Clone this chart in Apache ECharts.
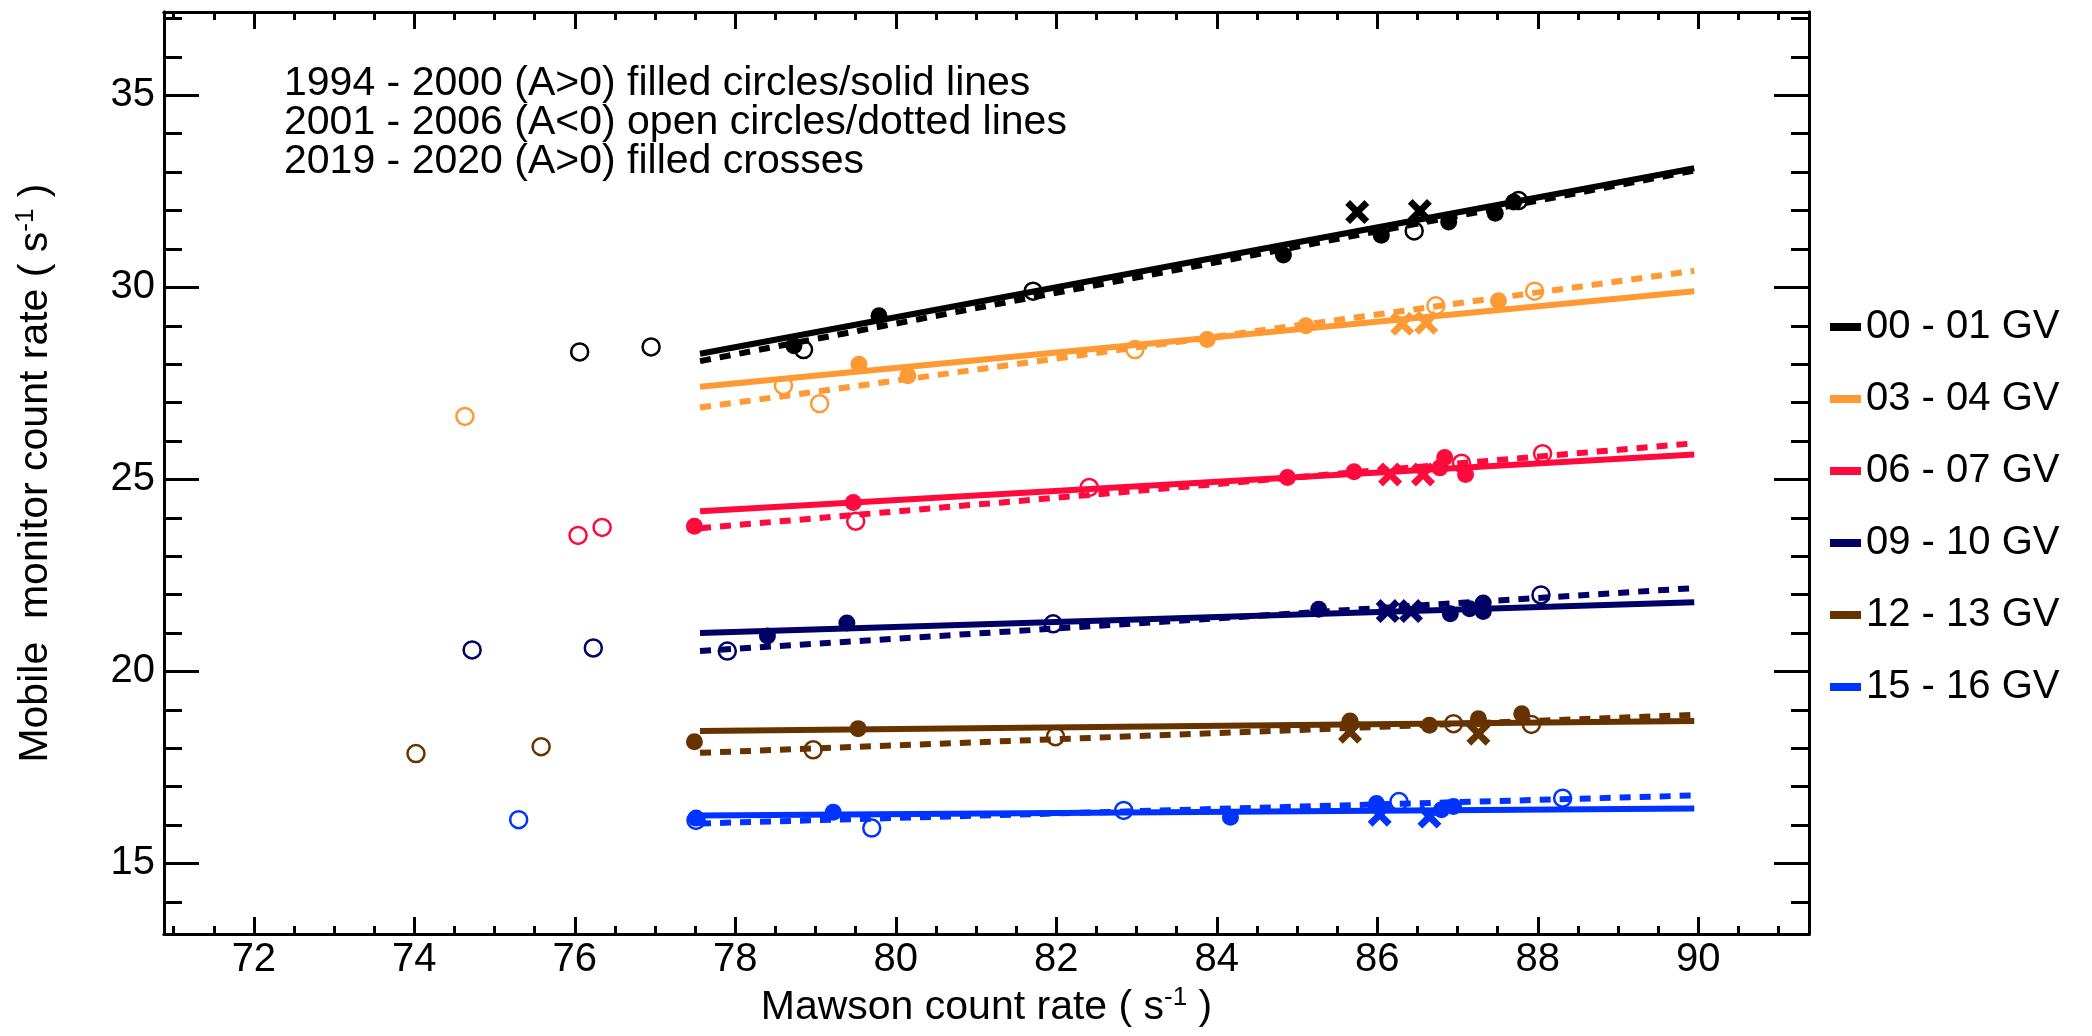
<!DOCTYPE html>
<html>
<head>
<meta charset="utf-8">
<script src="https://cdn.jsdelivr.net/npm/echarts@6/dist/echarts.min.js"></script>
<style>
  html, body { margin: 0; padding: 0; background: #fff; }
  #main { width: 2092px; height: 1036px; }
</style>
</head>
<body>
<div id="main"></div>
<script>
// rigidity bands (legend) and their colours
var bands = ['00 - 01 GV', '03 - 04 GV', '06 - 07 GV', '09 - 10 GV', '12 - 13 GV', '15 - 16 GV'];
var bandColors = ['#000000', '#ff9933', '#ff0a3c', '#000066', '#663300', '#0033ff'];

// fitted lines, [start, end] per band
var solidFits = [
  [[77.56, 28.27], [89.95, 33.10]],
  [[77.56, 27.41], [89.95, 29.90]],
  [[77.56, 24.17], [89.95, 25.65]],
  [[77.56, 21.00], [89.95, 21.80]],
  [[77.56, 18.45], [89.95, 18.71]],
  [[77.56, 16.25], [89.95, 16.43]]
];
var dashedFits = [
  [[77.56, 28.08], [89.95, 33.04]],
  [[77.56, 26.87], [89.95, 30.43]],
  [[77.56, 23.73], [89.95, 25.94]],
  [[77.56, 20.53], [89.95, 22.17]],
  [[77.56, 17.88], [89.95, 18.87]],
  [[77.56, 16.04], [89.95, 16.77]]
];

// 1994 - 2000 filled circles
var filledPts = [
  [[78.73, 28.48], [79.79, 29.26], [84.83, 30.84], [86.05, 31.36], [86.89, 31.70], [87.47, 31.93], [87.70, 32.22]],
  [[79.54, 28.00], [80.15, 27.70], [83.88, 28.64], [85.11, 29.00], [87.51, 29.65]],
  [[77.49, 23.78], [79.47, 24.40], [84.88, 25.05], [85.71, 25.20], [86.78, 25.30], [86.84, 25.57], [87.10, 25.13]],
  [[78.40, 20.92], [79.39, 21.26], [85.27, 21.62], [86.91, 21.50], [87.15, 21.63], [87.32, 21.78], [87.32, 21.56]],
  [[77.49, 18.17], [79.53, 18.51], [85.66, 18.71], [86.65, 18.60], [87.26, 18.77], [87.80, 18.90]],
  [[77.51, 16.18], [79.22, 16.33], [84.17, 16.20], [85.99, 16.56], [86.80, 16.40], [86.95, 16.48]]
];
// 2001 - 2006 open circles
var openPts = [
  [[76.06, 28.32], [76.95, 28.45], [78.85, 28.38], [81.71, 29.90], [86.46, 31.47], [87.76, 32.26]],
  [[74.63, 26.64], [78.60, 27.44], [79.05, 26.97], [82.98, 28.38], [86.73, 29.52], [87.96, 29.90]],
  [[76.04, 23.54], [76.34, 23.75], [79.50, 23.91], [82.41, 24.79], [87.05, 25.42], [88.06, 25.67]],
  [[74.72, 20.56], [76.23, 20.61], [77.90, 20.53], [81.96, 21.24], [88.04, 21.99]],
  [[74.02, 17.86], [75.58, 18.04], [78.97, 17.96], [81.99, 18.30], [86.95, 18.64], [87.92, 18.62]],
  [[75.30, 16.14], [77.51, 16.12], [79.70, 15.92], [82.84, 16.38], [86.27, 16.61], [88.31, 16.70]]
];
// 2019 - 2020 crosses
var crossPts = [
  [[85.75, 31.96], [86.53, 31.99]],
  [[86.31, 29.05], [86.61, 29.08]],
  [[86.16, 25.13], [86.57, 25.13]],
  [[86.13, 21.57], [86.42, 21.57]],
  [[85.66, 18.43], [87.26, 18.38]],
  [[86.03, 16.27], [86.65, 16.22]]
];

var xMajor = [72, 74, 76, 78, 80, 82, 84, 86, 88, 90];
var yMajor = [15, 20, 25, 30, 35];
var noteLines = [
  '1994 - 2000 (A>0) filled circles/solid lines',
  '2001 - 2006 (A<0) open circles/dotted lines',
  '2019 - 2020 (A>0) filled crosses'
];

var xMinor = [];
for (var v = 71; v <= 91; v += 0.5) xMinor.push(v);
var yMinor = [];
for (var w = 14; w <= 37; w++) yMinor.push(w);

var FONT = "'Liberation Sans', Arial, Helvetica, sans-serif";
var X_MIN = 70.88, X_MAX = 91.38, Y_MIN = 13.16, Y_MAX = 37.17;
var crossPath = 'path://M0,2 L2,0 L5,3 L8,0 L10,2 L7,5 L10,8 L8,10 L5,7 L2,10 L0,8 L3,5 Z';

var chart = echarts.init(document.getElementById('main'), null, {renderer: 'canvas'});

function xAx(pos, ticks, len, labels, name) {
  var a = {
    type: 'value', position: pos, min: X_MIN, max: X_MAX,
    axisLine: {show: true, onZero: false, lineStyle: {color: '#000', width: 3}},
    axisTick: {show: true, inside: true, length: len, customValues: ticks, lineStyle: {color: '#000', width: 3}},
    axisLabel: {show: !!labels, customValues: ticks, margin: 6, color: '#000', fontSize: 40, fontFamily: FONT},
    splitLine: {show: false}
  };
  if (name) {
    a.name = name;
    a.nameLocation = 'middle';
    a.nameGap = 50;
    a.nameTextStyle = {color: '#000', fontSize: 41, fontFamily: FONT, lineHeight: 46,
      rich: {sup: {fontSize: 26, lineHeight: 26, verticalAlign: 'top', fontFamily: FONT, color: '#000'}}};
  }
  return a;
}
function yAx(pos, ticks, len, labels, name) {
  var a = {
    type: 'value', position: pos, min: Y_MIN, max: Y_MAX,
    axisLine: {show: true, onZero: false, lineStyle: {color: '#000', width: 3}},
    axisTick: {show: true, inside: true, length: len, customValues: ticks, lineStyle: {color: '#000', width: 3}},
    axisLabel: {show: !!labels, customValues: ticks, margin: 9, color: '#000', fontSize: 40, fontFamily: FONT},
    splitLine: {show: false}
  };
  if (name) {
    a.name = name;
    a.nameLocation = 'middle';
    a.nameGap = 105;
    a.nameTextStyle = {color: '#000', fontSize: 41, fontFamily: FONT, lineHeight: 46,
      rich: {sup: {fontSize: 26, lineHeight: 26, verticalAlign: 'top', fontFamily: FONT, color: '#000'}}};
  }
  return a;
}

var series = [];
bands.forEach(function (band, i) {
  var c = bandColors[i];
  series.push({
    name: band, type: 'line', data: solidFits[i], color: c, symbol: 'none', z: 2,
    lineStyle: {color: c, width: 6, type: 'solid', cap: 'butt'}
  });
  series.push({
    name: band + ' dashed', type: 'line', data: dashedFits[i], color: c, symbol: 'none', z: 2,
    lineStyle: {color: c, width: 6, type: [11, 9], cap: 'butt'}
  });
  series.push({
    name: band + ' filled', type: 'scatter', data: filledPts[i], symbol: 'circle', symbolSize: 17, z: 3,
    itemStyle: {color: c, opacity: 1}
  });
  series.push({
    name: band + ' open', type: 'scatter', data: openPts[i], symbol: 'circle', symbolSize: 17, z: 3,
    itemStyle: {color: 'rgba(255,255,255,0)', borderColor: c, borderWidth: 2.5, opacity: 1}
  });
  series.push({
    name: band + ' cross', type: 'scatter', data: crossPts[i], symbol: crossPath, symbolSize: 24, z: 3,
    itemStyle: {color: c, opacity: 1}
  });
});

chart.setOption({
  animation: false,
  backgroundColor: '#fff',
  grid: {left: 164, right: 283, top: 12, bottom: 98, containLabel: false},
  xAxis: [
    xAx('bottom', xMajor, 17, true, 'Mawson count rate ( s{sup|-1} )'),
    xAx('bottom', xMinor, 8, false),
    xAx('top', xMajor, 17, false),
    xAx('top', xMinor, 8, false)
  ],
  yAxis: [
    yAx('left', yMajor, 35, true, 'Mobile  monitor count rate ( s{sup|-1} )'),
    yAx('left', yMinor, 18, false),
    yAx('right', yMajor, 35, false),
    yAx('right', yMinor, 18, false)
  ],
  legend: {
    data: bands, orient: 'vertical', left: 1825, top: 302,
    icon: 'rect', itemWidth: 31, itemHeight: 8, itemGap: 32,
    selectedMode: false,
    textStyle: {color: '#000', fontSize: 40, fontFamily: FONT, lineHeight: 40}
  },
  graphic: [{
    type: 'text', left: 284, top: 63, silent: true,
    style: {text: noteLines.join('\n'), fill: '#000', font: '41px ' + FONT, lineHeight: 39}
  }],
  series: series
});
</script>
</body>
</html>
